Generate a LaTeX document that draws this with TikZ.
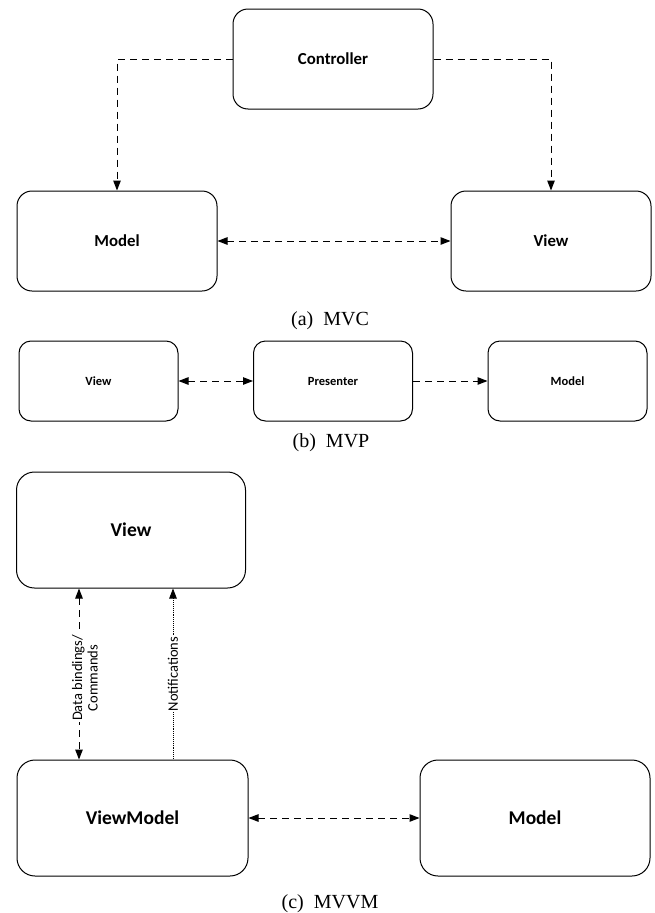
\documentclass[tikz,border=0pt]{standalone}
\usepackage{fontspec}
\setmainfont{Liberation Serif}
\newfontfamily\boxfont{Carlito}
\usetikzlibrary{arrows.meta}
\tikzset{
  box/.style={draw, line width=1pt, align=center, font=\boxfont\bfseries},
  mvcbox/.style={box, rounded corners=15pt, minimum width=200pt, minimum height=100pt, font=\boxfont\bfseries\fontsize{16.8}{19}\selectfont},
  mvpbox/.style={box, rounded corners=12pt, minimum width=159pt, minimum height=80pt, font=\boxfont\bfseries\fontsize{12.5}{14}\selectfont},
  mvvmbox/.style={box, rounded corners=18pt, minimum width=230pt, minimum height=116pt, font=\boxfont\bfseries\fontsize{19.5}{22}\selectfont},
  link/.style={line width=1pt, dash pattern=on 7pt off 5pt},
  dotlink/.style={line width=0.8pt, dash pattern=on 0.9pt off 1pt},
  tip/.tip={Triangle[length=10pt,width=7.5pt]},
  caption/.style={anchor=base, font=\fontsize{20}{23}\selectfont},
  lbl/.style={fill=white, rotate=90, align=center, inner sep=1pt, font=\boxfont\fontsize{14.5}{15.5}\selectfont}
}
\begin{document}
\begin{tikzpicture}[x=1pt, y=-1pt]
\useasboundingbox (0,0) rectangle (654,913);

% (a) MVC
\node[mvcbox] (ctrl) at (333,59) {Controller};
\node[mvcbox] (mvcmodel) at (117,241) {Model};
\node[mvcbox] (mvcview) at (551,241) {View};
\draw[link,-tip] (ctrl.west) -| (mvcmodel.north);
\draw[link,-tip] (ctrl.east) -| (mvcview.north);
\draw[link,tip-tip] (mvcmodel) -- (mvcview);
\node[caption] (capa) at (330,325) {(a)~~MVC};

% (b) MVP
\node[mvpbox] (mvpview) at (98.5,381) {View};
\node[mvpbox] (presenter) at (333,381) {Presenter};
\node[mvpbox] (mvpmodel) at (567.5,381) {Model};
\draw[link,tip-tip] (mvpview) -- (presenter);
\draw[link,-tip] (presenter) -- (mvpmodel);
\node[caption] (capb) at (331,447) {(b)~~MVP};

% (c) MVVM
\node[mvvmbox, minimum width=229pt] (vview) at (131,530) {View};
\node[mvvmbox, minimum width=231pt] (vm) at (132.5,818) {ViewModel};
\node[mvvmbox] (vmodel) at (535,818) {Model};
\coordinate (dbx) at (79,0);
\coordinate (nfx) at (173,0);
\draw[link,tip-tip] (vview.south -| dbx) -- (vm.north -| dbx)
  node[lbl, midway, yshift=-6pt, xshift=-4pt] {Data bindings/\\Commands};
\draw[dotlink,tip-] (vview.south -| nfx) -- (vm.north -| nfx)
  node[lbl, midway] {Notifications};
\draw[link,tip-tip] (vm) -- (vmodel);
\node[caption] (capc) at (330,908) {(c)~~MVVM};
\end{tikzpicture}
\end{document}
